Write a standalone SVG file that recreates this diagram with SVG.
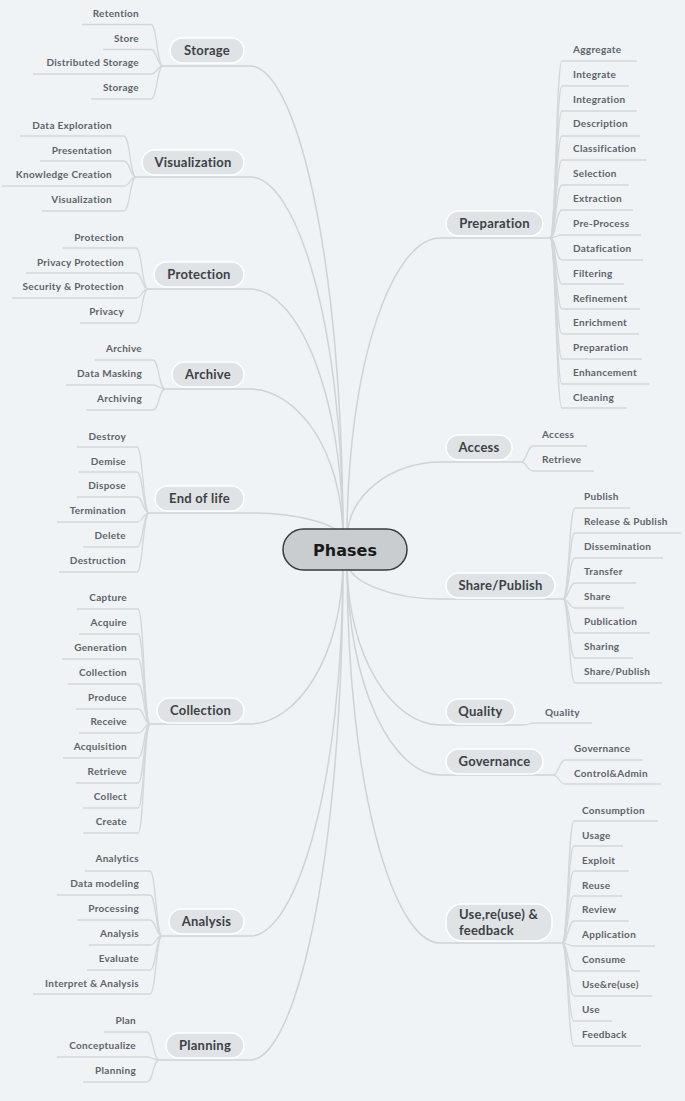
<svg xmlns="http://www.w3.org/2000/svg" width="685" height="1101" viewBox="0 0 685 1101">
<style>
.bg{fill:#eff3f6}
.cn{fill:none;stroke:#cfd3d6;stroke-width:1.5}
.lf{fill:none;stroke:#d3d7da;stroke-width:1.3}
.bp{fill:#dfe3e6;stroke:#ffffff;stroke-width:1.5}
.bt{font-family:Lato,"Liberation Sans",sans-serif;font-size:13px;font-weight:bold;letter-spacing:0.25px;fill:#3d4145;text-anchor:middle}
.lt{font-family:Lato,"Liberation Sans",sans-serif;font-size:10px;font-weight:bold;letter-spacing:0.3px;fill:#5e6368}
.le{text-anchor:end}
.ct{font-family:"DejaVu Sans",sans-serif;font-weight:bold;font-size:16px;fill:#1a1a1a;text-anchor:middle}
</style>
<rect class="bg" x="0" y="0" width="685" height="1101"/>
<g id="connectors">
<path class="cn" d="M163 66H250C296 66 343 256 343 540"/>
<path class="cn" d="M136 177H250C296 177 343 322 343 540"/>
<path class="cn" d="M148 289H250C296 289 343 389 343 540"/>
<path class="cn" d="M165 389H250C296 389 343 449 343 540"/>
<path class="cn" d="M149 513H250C296 513 343 524 343 540"/>
<path class="cn" d="M150 724H250C296 724 343 658 343 560"/>
<path class="cn" d="M162 936H250C296 936 343 786 343 560"/>
<path class="cn" d="M159 1060H250C296 1060 343 860 343 560"/>
<path class="cn" d="M550 238H440C394 238 347 359 347 540"/>
<path class="cn" d="M521 462H440C394 462 347 493 347 540"/>
<path class="cn" d="M563 599H440C394 599 347 583 347 560"/>
<path class="cn" d="M523 725H440C394 725 347 659 347 560"/>
<path class="cn" d="M553 775H440C394 775 347 689 347 560"/>
<path class="cn" d="M562 943H440C394 943 347 790 347 560"/>
<path class="lf" d="M163 66C157 66 157 24.5 151 24.5H82"/>
<path class="lf" d="M163 66C157 66 157 49.5 151 49.5H103"/>
<path class="lf" d="M163 66C157 66 157 74 151 74H33"/>
<path class="lf" d="M163 66C157 66 157 99 151 99H91"/>
<path class="lf" d="M136 177C130 177 130 136 124 136H20"/>
<path class="lf" d="M136 177C130 177 130 161 124 161H40"/>
<path class="lf" d="M136 177C130 177 130 186 124 186H2"/>
<path class="lf" d="M136 177C130 177 130 211 124 211H42"/>
<path class="lf" d="M148 289C142 289 142 248 136 248H63"/>
<path class="lf" d="M148 289C142 289 142 273 136 273H26"/>
<path class="lf" d="M148 289C142 289 142 298 136 298H12"/>
<path class="lf" d="M148 289C142 289 142 323 136 323H80"/>
<path class="lf" d="M165 389C159 389 159 360 153 360H95"/>
<path class="lf" d="M165 389C159 389 159 385 153 385H66"/>
<path class="lf" d="M165 389C159 389 159 410 153 410H86"/>
<path class="lf" d="M149 513C143 513 143 447 137 447H77"/>
<path class="lf" d="M149 513C143 513 143 472 137 472H79"/>
<path class="lf" d="M149 513C143 513 143 497 137 497H77"/>
<path class="lf" d="M149 513C143 513 143 522 137 522H57"/>
<path class="lf" d="M149 513C143 513 143 547 137 547H83"/>
<path class="lf" d="M149 513C143 513 143 572 137 572H59"/>
<path class="lf" d="M150 724C144 724 144 609 138 609H77"/>
<path class="lf" d="M150 724C144 724 144 634 138 634H79"/>
<path class="lf" d="M150 724C144 724 144 659 138 659H62"/>
<path class="lf" d="M150 724C144 724 144 684 138 684H68"/>
<path class="lf" d="M150 724C144 724 144 709 138 709H76"/>
<path class="lf" d="M150 724C144 724 144 733 138 733H79"/>
<path class="lf" d="M150 724C144 724 144 758 138 758H63"/>
<path class="lf" d="M150 724C144 724 144 783 138 783H76"/>
<path class="lf" d="M150 724C144 724 144 808 138 808H83"/>
<path class="lf" d="M150 724C144 724 144 833 138 833H83"/>
<path class="lf" d="M162 936C156 936 156 871 150 871H85"/>
<path class="lf" d="M162 936C156 936 156 895 150 895H57"/>
<path class="lf" d="M162 936C156 936 156 920 150 920H77"/>
<path class="lf" d="M162 936C156 936 156 945 150 945H89"/>
<path class="lf" d="M162 936C156 936 156 970 150 970H87"/>
<path class="lf" d="M162 936C156 936 156 994 150 994H33"/>
<path class="lf" d="M159 1060C153 1060 153 1032 147 1032H104"/>
<path class="lf" d="M159 1060C153 1060 153 1057 147 1057H57"/>
<path class="lf" d="M159 1060C153 1060 153 1082 147 1082H83"/>
<path class="lf" d="M550 238C556 238 556 61 562 61H637"/>
<path class="lf" d="M550 238C556 238 556 86 562 86H629"/>
<path class="lf" d="M550 238C556 238 556 111 562 111H637"/>
<path class="lf" d="M550 238C556 238 556 136 562 136H640"/>
<path class="lf" d="M550 238C556 238 556 160 562 160H647"/>
<path class="lf" d="M550 238C556 238 556 185 562 185H629"/>
<path class="lf" d="M550 238C556 238 556 210 562 210H633"/>
<path class="lf" d="M550 238C556 238 556 235 562 235H641"/>
<path class="lf" d="M550 238C556 238 556 260 562 260H643"/>
<path class="lf" d="M550 238C556 238 556 284 562 284H624"/>
<path class="lf" d="M550 238C556 238 556 309 562 309H640"/>
<path class="lf" d="M550 238C556 238 556 334 562 334H639"/>
<path class="lf" d="M550 238C556 238 556 359 562 359H642"/>
<path class="lf" d="M550 238C556 238 556 384 562 384H649"/>
<path class="lf" d="M550 238C556 238 556 408 562 408H627"/>
<path class="lf" d="M521 462C527 462 527 446 533 446H587"/>
<path class="lf" d="M521 462C527 462 527 471 533 471H594"/>
<path class="lf" d="M563 599C569 599 569 508 575 508H630"/>
<path class="lf" d="M563 599C569 599 569 533 575 533H681"/>
<path class="lf" d="M563 599C569 599 569 558 575 558H663"/>
<path class="lf" d="M563 599C569 599 569 583 575 583H636"/>
<path class="lf" d="M563 599C569 599 569 608 575 608H624"/>
<path class="lf" d="M563 599C569 599 569 633 575 633H650"/>
<path class="lf" d="M563 599C569 599 569 658 575 658H633"/>
<path class="lf" d="M563 599C569 599 569 683 575 683H662"/>
<path class="lf" d="M523 725C529 725 529 723 535 723H592"/>
<path class="lf" d="M553 775C559 775 559 760 565 760H643"/>
<path class="lf" d="M553 775C559 775 559 784 565 784H661"/>
<path class="lf" d="M562 943C568 943 568 821 574 821H658"/>
<path class="lf" d="M562 943C568 943 568 846 574 846H623"/>
<path class="lf" d="M562 943C568 943 568 871 574 871H629"/>
<path class="lf" d="M562 943C568 943 568 896 574 896H623"/>
<path class="lf" d="M562 943C568 943 568 921 574 921H629"/>
<path class="lf" d="M562 943C568 943 568 946 574 946H655"/>
<path class="lf" d="M562 943C568 943 568 971 574 971H640"/>
<path class="lf" d="M562 943C568 943 568 996 574 996H652"/>
<path class="lf" d="M562 943C568 943 568 1021 574 1021H612"/>
<path class="lf" d="M562 943C568 943 568 1046 574 1046H641"/>
</g>
<g id="center"><rect x="283" y="529" width="124" height="41" rx="20.5" fill="#c9cdd0" stroke="#3a3a3a" stroke-width="1.5"/><text class="ct" x="345" y="555.5">Phases</text></g>
<g id="storage"><rect class="bp" x="170" y="38" width="74" height="25" rx="12.5"/><text class="bt" x="207" y="55">Storage</text></g>
<g id="visualization"><rect class="bp" x="142" y="150" width="102" height="25" rx="12.5"/><text class="bt" x="193" y="167">Visualization</text></g>
<g id="protection"><rect class="bp" x="154" y="262" width="90" height="25" rx="12.5"/><text class="bt" x="199" y="279">Protection</text></g>
<g id="archive"><rect class="bp" x="172" y="362" width="72" height="25" rx="12.5"/><text class="bt" x="208" y="379">Archive</text></g>
<g id="endoflife"><rect class="bp" x="155" y="486" width="89" height="25" rx="12.5"/><text class="bt" x="199.5" y="503">End of life</text></g>
<g id="collection"><rect class="bp" x="157" y="698" width="87" height="25" rx="12.5"/><text class="bt" x="200.5" y="715">Collection</text></g>
<g id="analysis"><rect class="bp" x="169" y="909" width="75" height="25" rx="12.5"/><text class="bt" x="206.5" y="926">Analysis</text></g>
<g id="planning"><rect class="bp" x="166" y="1033" width="78" height="25" rx="12.5"/><text class="bt" x="205" y="1050">Planning</text></g>
<g id="preparation"><rect class="bp" x="446" y="211" width="97" height="25" rx="12.5"/><text class="bt" x="494.5" y="228">Preparation</text></g>
<g id="access"><rect class="bp" x="446" y="435" width="66" height="25" rx="12.5"/><text class="bt" x="479" y="452">Access</text></g>
<g id="sharepublish"><rect class="bp" x="446" y="573" width="109" height="25" rx="12.5"/><text class="bt" x="500.5" y="590">Share/Publish</text></g>
<g id="quality"><rect class="bp" x="446" y="699" width="69" height="25" rx="12.5"/><text class="bt" x="480.5" y="716">Quality</text></g>
<g id="governance"><rect class="bp" x="446" y="749" width="97" height="25" rx="12.5"/><text class="bt" x="494.5" y="766">Governance</text></g>
<g id="use"><rect class="bp" x="446" y="904" width="106" height="37" rx="16"/><text class="bt" style="text-anchor:start" x="459" y="919">Use,re(use) &amp;</text><text class="bt" style="text-anchor:start" x="459" y="934.5">feedback</text></g>
<g id="leaves-storage" class="lt le">
<g id="l-retention"><text x="139" y="16.5">Retention</text></g>
<g id="l-store"><text x="139" y="41.5">Store</text></g>
<g id="l-diststorage"><text x="139" y="65.5">Distributed Storage</text></g>
<g id="l-storage"><text x="139" y="90.5">Storage</text></g>
</g>
<g id="leaves-visualization" class="lt le">
<g id="l-dataexploration"><text x="112" y="128.5">Data Exploration</text></g>
<g id="l-presentation"><text x="112" y="153.5">Presentation</text></g>
<g id="l-knowledge"><text x="112" y="177.5">Knowledge Creation</text></g>
<g id="l-visualization"><text x="112" y="202.5">Visualization</text></g>
</g>
<g id="leaves-protection" class="lt le">
<g id="l-protection"><text x="124" y="240.5">Protection</text></g>
<g id="l-privprot"><text x="124" y="265.5">Privacy Protection</text></g>
<g id="l-secprot"><text x="124" y="289.5">Security &amp; Protection</text></g>
<g id="l-privacy"><text x="124" y="314.5">Privacy</text></g>
</g>
<g id="leaves-archive" class="lt le">
<g id="l-archive"><text x="142" y="351.5">Archive</text></g>
<g id="l-datamasking"><text x="142" y="376.5">Data Masking</text></g>
<g id="l-archiving"><text x="142" y="401.5">Archiving</text></g>
</g>
<g id="leaves-endoflife" class="lt le">
<g id="l-destroy"><text x="126" y="439.5">Destroy</text></g>
<g id="l-demise"><text x="126" y="464.5">Demise</text></g>
<g id="l-dispose"><text x="126" y="488.5">Dispose</text></g>
<g id="l-termination"><text x="126" y="513.5">Termination</text></g>
<g id="l-delete"><text x="126" y="538.5">Delete</text></g>
<g id="l-destruction"><text x="126" y="563.5">Destruction</text></g>
</g>
<g id="leaves-collection" class="lt le">
<g id="l-capture"><text x="127" y="600.5">Capture</text></g>
<g id="l-acquire"><text x="127" y="625.5">Acquire</text></g>
<g id="l-generation"><text x="127" y="650.5">Generation</text></g>
<g id="l-collection"><text x="127" y="675.5">Collection</text></g>
<g id="l-produce"><text x="127" y="700.5">Produce</text></g>
<g id="l-receive"><text x="127" y="724.5">Receive</text></g>
<g id="l-acquisition"><text x="127" y="749.5">Acquisition</text></g>
<g id="l-retrieve1"><text x="127" y="774.5">Retrieve</text></g>
<g id="l-collect"><text x="127" y="799.5">Collect</text></g>
<g id="l-create"><text x="127" y="824.5">Create</text></g>
</g>
<g id="leaves-analysis" class="lt le">
<g id="l-analytics"><text x="139" y="861.5">Analytics</text></g>
<g id="l-datamodeling"><text x="139" y="886.5">Data modeling</text></g>
<g id="l-processing"><text x="139" y="911.5">Processing</text></g>
<g id="l-analysis"><text x="139" y="936.5">Analysis</text></g>
<g id="l-evaluate"><text x="139" y="961.5">Evaluate</text></g>
<g id="l-interpret"><text x="139" y="986.5">Interpret &amp; Analysis</text></g>
</g>
<g id="leaves-planning" class="lt le">
<g id="l-plan"><text x="136" y="1023.5">Plan</text></g>
<g id="l-conceptualize"><text x="136" y="1048.5">Conceptualize</text></g>
<g id="l-planning"><text x="136" y="1073.5">Planning</text></g>
</g>
<g id="leaves-preparation" class="lt">
<g id="l-aggregate"><text x="573" y="52.5">Aggregate</text></g>
<g id="l-integrate"><text x="573" y="77.5">Integrate</text></g>
<g id="l-integration"><text x="573" y="102.5">Integration</text></g>
<g id="l-description"><text x="573" y="126.5">Description</text></g>
<g id="l-classification"><text x="573" y="151.5">Classification</text></g>
<g id="l-selection"><text x="573" y="176.5">Selection</text></g>
<g id="l-extraction"><text x="573" y="201.5">Extraction</text></g>
<g id="l-preprocess"><text x="573" y="226.5">Pre-Process</text></g>
<g id="l-datafication"><text x="573" y="251.5">Datafication</text></g>
<g id="l-filtering"><text x="573" y="276.5">Filtering</text></g>
<g id="l-refinement"><text x="573" y="301.5">Refinement</text></g>
<g id="l-enrichment"><text x="573" y="325.5">Enrichment</text></g>
<g id="l-preparation"><text x="573" y="350.5">Preparation</text></g>
<g id="l-enhancement"><text x="573" y="375.5">Enhancement</text></g>
<g id="l-cleaning"><text x="573" y="400.5">Cleaning</text></g>
</g>
<g id="leaves-access" class="lt">
<g id="l-access"><text x="542" y="437.5">Access</text></g>
<g id="l-retrieve2"><text x="542" y="462.5">Retrieve</text></g>
</g>
<g id="leaves-share" class="lt">
<g id="l-publish"><text x="584" y="499.5">Publish</text></g>
<g id="l-releasepublish"><text x="584" y="524.5">Release &amp; Publish</text></g>
<g id="l-dissemination"><text x="584" y="549.5">Dissemination</text></g>
<g id="l-transfer"><text x="584" y="574.5">Transfer</text></g>
<g id="l-share"><text x="584" y="599.5">Share</text></g>
<g id="l-publication"><text x="584" y="624.5">Publication</text></g>
<g id="l-sharing"><text x="584" y="649.5">Sharing</text></g>
<g id="l-sharepublish"><text x="584" y="674.5">Share/Publish</text></g>
</g>
<g id="leaves-quality" class="lt">
<g id="l-quality"><text x="545" y="715.5">Quality</text></g>
</g>
<g id="leaves-governance" class="lt">
<g id="l-governance"><text x="574" y="751.5">Governance</text></g>
<g id="l-control"><text x="574" y="776.5">Control&amp;Admin</text></g>
</g>
<g id="leaves-use" class="lt">
<g id="l-consumption"><text x="582" y="813.5">Consumption</text></g>
<g id="l-usage"><text x="582" y="838.5">Usage</text></g>
<g id="l-exploit"><text x="582" y="863.5">Exploit</text></g>
<g id="l-reuse"><text x="582" y="888.5">Reuse</text></g>
<g id="l-review"><text x="582" y="912.5">Review</text></g>
<g id="l-application"><text x="582" y="937.5">Application</text></g>
<g id="l-consume"><text x="582" y="962.5">Consume</text></g>
<g id="l-usereuse"><text x="582" y="987.5">Use&amp;re(use)</text></g>
<g id="l-use"><text x="582" y="1012.5">Use</text></g>
<g id="l-feedback"><text x="582" y="1037.5">Feedback</text></g>
</g>
</svg>
